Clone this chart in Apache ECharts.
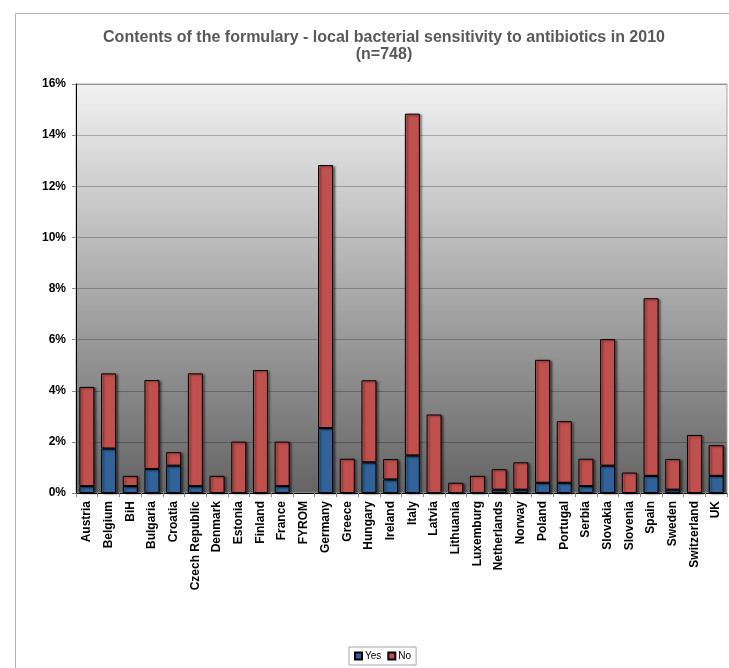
<!DOCTYPE html>
<html>
<head>
<meta charset="utf-8">
<script src="https://cdn.jsdelivr.net/npm/echarts@6/dist/echarts.min.js"></script>
<style>html,body{margin:0;padding:0;background:#fff;}#chart{width:729px;height:668px;}</style>
</head>
<body>
<div id="chart"></div>
<script>
const categories = ['Austria','Belgium','BiH','Bulgaria','Croatia','Czech Republic','Denmark','Estonia','Finland','France','FYROM','Germany','Greece','Hungary','Ireland','Italy','Latvia','Lithuania','Luxemburg','Netherlands','Norway','Poland','Portugal','Serbia','Slovakia','Slovenia','Spain','Sweden','Switzerland','UK'];
const yesValues = [0.27,1.74,0.27,0.94,1.07,0.27,0,0,0,0.27,0,2.54,0,1.20,0.53,1.47,0,0,0,0.13,0.13,0.40,0.40,0.27,1.07,0,0.67,0.13,0,0.67];
const noValues = [3.88,2.94,0.40,3.48,0.53,4.41,0.67,2.01,4.81,1.74,0,10.29,1.34,3.21,0.80,13.37,3.07,0.40,0.67,0.80,1.07,4.81,2.41,1.07,4.95,0.80,6.95,1.20,2.27,1.20];
const yTicks = {min: 0, max: 16, interval: 2};
const titleLines = ['Contents of the formulary - local bacterial sensitivity to antibiotics in 2010', '(n=748)'];

// zero values are not drawn (no empty bordered sliver)
const hideZero = (arr) => arr.map(v => (v === 0 ? '-' : v));

const chart = echarts.init(document.getElementById('chart'));
const barStyle = (color) => ({
  color: color,
  borderColor: '#000',
  borderWidth: 1,
  shadowColor: 'rgba(0,0,0,0.45)',
  shadowOffsetX: 2,
  shadowOffsetY: 1,
  shadowBlur: 2
});
chart.setOption({
  animation: false,
  graphic: [{
    type: 'rect', z: -10, silent: true,
    shape: {x: 15.5, y: 13.5, width: 800, height: 800},
    style: {fill: '#fff', stroke: '#b3b3b3', lineWidth: 1}
  }],
  title: {
    text: titleLines.join('\n'),
    left: 379, top: 24, textAlign: 'center',
    textStyle: {fontFamily: 'Arial, Liberation Sans', fontSize: 16, fontWeight: 'bold', color: '#595959', lineHeight: 17}
  },
  legend: {
    left: 349, top: 647,
    data: ['Yes', 'No'],
    borderColor: '#a6a6a6', borderWidth: 1,
    padding: [4, 5],
    itemWidth: 7, itemHeight: 7, itemGap: 6,
    icon: 'rect',
    textStyle: {fontFamily: 'Arial, Liberation Sans', fontSize: 10, color: '#000', padding: [0,0,0,-2]}
  },
  grid: {
    left: 76, right: 2, top: 84, bottom: 175,
    show: true,
    borderColor: '#a6a6a6', borderWidth: 1,
    backgroundColor: new echarts.graphic.LinearGradient(0, 0, 0, 1, [
      {offset: 0, color: '#f2f2f2'},
      {offset: 1, color: '#646464'}
    ])
  },
  xAxis: {
    type: 'category',
    data: categories,
    axisLine: {lineStyle: {color: '#000', width: 1}},
    axisTick: {show: true, length: 4, lineStyle: {color: '#888'}},
    axisLabel: {
      rotate: 90, margin: 8, interval: 0,
      fontFamily: 'Arial, Liberation Sans', fontSize: 12, fontWeight: 'bold', color: '#000'
    }
  },
  yAxis: {
    type: 'value',
    min: yTicks.min, max: yTicks.max, interval: yTicks.interval,
    axisLine: {show: true, lineStyle: {color: '#000', width: 1}},
    axisTick: {show: true, length: 4, lineStyle: {color: '#888'}},
    splitLine: {lineStyle: {color: 'rgba(0,0,0,0.25)', width: 1}},
    axisLabel: {
      formatter: '{value}%', margin: 10,
      fontFamily: 'Arial, Liberation Sans', fontSize: 12, fontWeight: 'bold', color: '#000'
    }
  },
  series: [
    {name: 'Yes', type: 'bar', stack: 'total', data: hideZero(yesValues), barWidth: 15, itemStyle: barStyle('#31639a')},
    {name: 'No', type: 'bar', stack: 'total', data: hideZero(noValues), barWidth: 15, itemStyle: barStyle('#c0504d')}
  ]
});
</script>
</body>
</html>
